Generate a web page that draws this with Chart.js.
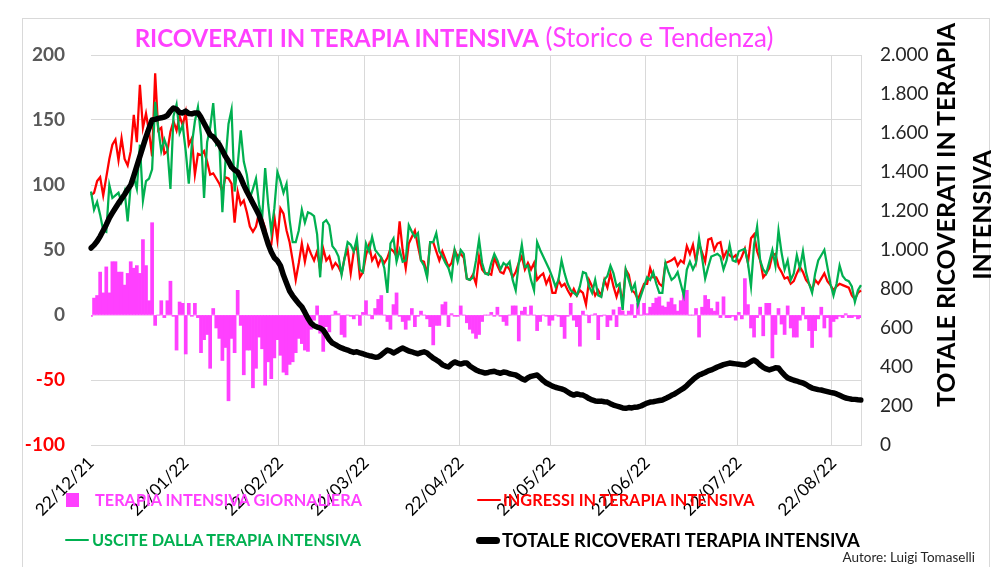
<!DOCTYPE html>
<html>
<head>
<meta charset="utf-8">
<script src="https://cdn.jsdelivr.net/npm/chart.js@4.4.1/dist/chart.umd.min.js"></script>
<style>
  html, body { margin: 0; padding: 0; background: #fff; }
  #wrap { position: relative; width: 1001px; height: 567px; overflow: hidden;
          font-family: 'Liberation Sans Narrow', 'Lato', sans-serif; }
  #frame { position: absolute; left: 22px; top: 18px; width: 966px; height: 600px; border: 1px solid #d9d9d9; }
  #myChart { position: absolute; left: 0; top: 0; }
  #title { position: absolute; left: 0; top: 21px; width: 908px; text-align: center;
           color: #ff40ff; font-size: 26px; white-space: nowrap; }
  #title b { font-weight: bold; font-size: 24px; }
  #rtitle { position: absolute; left: 753px; top: 179px; width: 420px; height: 72px;
            transform: rotate(-90deg); text-align: center; font-weight: bold;
            font-size: 25px; line-height: 36px; color: #000; white-space: nowrap; }
  .leg { position: absolute; font-weight: bold; font-size: 16.3px; white-space: nowrap; line-height: 20px; }
  .leg.big { font-size: 18.4px; }
  .mk { position: absolute; }
  #autore { position: absolute; right: 26px; top: 549px; font-size: 13.5px; color: #262626; }
</style>
</head>
<body>
<div id="wrap">
  <div id="frame"></div>
  <canvas id="myChart" width="1001" height="567"></canvas>
  <div id="title"><b>RICOVERATI IN TERAPIA INTENSIVA</b> (Storico e Tendenza)</div>
  <div id="rtitle">TOTALE RICOVERATI IN TERAPIA<br>INTENSIVA</div>
  <div id="legend"></div>
  <div id="autore">Autore: Luigi Tomaselli</div>
</div>
<script>
// giorni dal 22/12/21 al 31/08/22
const startDate = new Date(2021, 11, 22);
const nDays = 253;
const tickLabels = ['22/12/21', '22/01/22', '22/02/22', '22/03/22', '22/04/22', '22/05/22', '22/06/22', '22/07/22', '22/08/22'];

const giornaliera = [
  -1,13,15,33,17,37,17,41,41,33,33,23,32,41,36,38,32,58,38,11,71,
  -8,0,11,-2,11,26,-1,-27,10,9,-30,9,-1,9,
  -2,-29,-19,-15,-41,5,-10,-18,-35,-25,-66,-18,-29,19,-8,-46,-27,-27,-56,-41,-17,-26,-54,-36,-49,-33,-19,
  -31,-44,-46,-38,-36,-29,-18,-22,-27,-28,
  -11,-4,7,-14,-28,-9,-13,0,3,1,
  -15,-17,0,-1,-3,0,-8,2,11,0,
  -3,5,12,15,0,-5,-11,8,17,-1,
  -5,-11,-4,5,-9,-1,3,0,-3,-9,
  -23,-8,-8,8,10,-9,1,-1,-1,7,
  0,-6,-11,-14,
  -18,-15,-5,0,0,2,-1,6,-1,-5,
  -8,0,7,7,-20,3,6,0,7,0,
  -12,-5,0,-1,-8,-4,0,-1,-9,-18,
  -1,9,-4,-9,-24,3,0,-6,0,1,
  -19,-1,0,-9,-4,4,-9,6,3,0,
  3,8,-2,9,0,9,1,6,9,13,14,
  7,6,10,
  13,8,3,11,16,19,0,0,5,-17,
  6,15,12,5,3,10,-2,14,-2,-2,
  -1,-4,2,-3,28,8,-10,-17,-2,6,
  -16,9,9,-33,-15,5,-7,-15,7,-10,
  -17,-17,-4,6,-3,-12,-25,-12,-3,6,
  -10,-2,-17,-5,-3,-1,-2,1,-2,-2,-1,-3,-2
];

const ingressi = [
  92,94,103,106,92,106,120,131,135,119,136,120,115,126,154,133,177,144,155,141,
  122,186,142,144,124,126,141,149,142,153,146,156,131,136,108,124,123,126,118,108,
  109,105,101,95,106,105,101,71,95,85,88,79,68,64,68,79,74,67,53,54,76,58,
  82,78,65,56,42,27,40,55,41,53,47,42,49,35,51,42,45,36,40,37,
  32,44,50,32,49,53,29,33,46,54,42,46,38,44,40,44,51,49,45,72,
  50,36,55,60,65,53,42,41,31,56,56,49,42,49,43,37,40,50,45,47,44,28,27,31,
  24,45,35,32,32,31,44,38,33,32,38,35,29,33,40,45,35,40,35,40,
  27,30,32,24,29,17,17,27,22,24,19,15,20,15,19,17,8,27,22,15,
  19,15,27,21,32,22,14,22,9,35,31,19,17,12,18,24,24,36,29,29,24,22,40,41,
  42,44,38,42,40,53,47,54,41,55,48,41,58,59,50,55,56,44,49,46,
  44,46,40,45,51,40,59,62,49,42,29,32,36,46,47,37,33,28,29,24,
  26,32,37,33,27,24,19,27,24,28,32,26,23,19,22,24,23,22,21,15,12,17,19
];

const uscite = [
  95,81,87,77,65,64,100,90,92,94,87,95,72,100,106,97,131,88,103,105,
  112,164,144,126,135,128,97,153,162,140,146,126,101,131,149,160,138,90,133,144,
  163,131,133,79,118,147,158,95,115,142,118,108,90,97,105,85,74,113,85,64,82,110,
  103,94,101,73,56,56,65,81,71,79,78,76,62,29,71,73,69,53,50,45,
  31,44,56,54,49,59,35,33,55,49,60,50,47,44,36,17,55,59,41,50,
  41,42,69,64,60,63,42,38,29,56,56,63,49,45,40,36,28,50,41,50,47,28,27,29,
  42,58,40,32,31,40,47,42,35,40,38,41,27,19,40,54,37,38,27,19,
  56,50,45,40,35,29,22,27,42,32,24,19,17,15,22,33,32,22,17,27,
  15,14,27,30,38,32,22,24,4,35,27,19,24,8,15,22,29,27,33,24,17,17,40,33,
  27,29,33,24,15,35,41,35,40,59,44,28,37,45,46,47,45,35,42,54,
  42,41,49,50,51,40,22,54,68,42,35,32,41,50,38,65,48,35,42,27,
  32,46,36,49,33,24,17,32,42,46,50,37,24,15,24,38,30,27,26,22,10,19,23
];

const totale = [
  1010,1025,1045,1070,1100,1130,1164,1190,1215,1240,1262,1285,1310,1333,
  1380,1430,1480,1530,1580,1625,1667,1670,1675,1678,1682,1690,1712,1728,
  1722,1705,1703,1712,1700,1698,1703,1703,1680,1650,1620,1590,
  1580,1560,1540,1510,1480,1455,1425,1410,1400,1370,1333,
  1300,1270,1240,1210,1180,1130,1080,1030,990,960,945,920,870,830,790,
  765,745,725,708,680,650,625,612,605,600,590,565,540,523,
  515,505,498,492,487,480,475,478,472,468,462,458,455,450,451,
  462,475,487,482,472,480,490,497,490,482,478,472,468,474,478,472,
  458,445,436,426,412,405,400,415,426,420,415,420,420,
  405,395,385,378,374,369,372,376,378,372,368,374,372,365,362,359,
  350,340,333,345,352,356,359,345,330,318,310,302,296,292,288,282,
  272,262,256,262,258,256,248,238,231,226,224,225,222,220,
  212,205,200,195,190,188,192,190,194,195,200,208,215,220,222,225,228,231,
  238,246,255,262,272,282,292,305,320,335,348,359,365,372,380,385,
  392,400,406,412,416,420,418,416,414,412,410,418,428,436,
  425,410,398,390,385,390,396,395,375,358,344,338,332,328,322,318,
  310,300,292,288,284,282,278,274,270,267,262,255,248,241,238,235,234,232,231
];

const pad2 = n => String(n).padStart(2, '0');
const labels = [];
for (let i = 0; i < nDays; i++) {
    const d = new Date(startDate.getFullYear(), startDate.getMonth(), startDate.getDate() + i);
    labels.push(pad2(d.getDate()) + '/' + pad2(d.getMonth() + 1) + '/' + pad2(d.getFullYear() % 100));
}

function migliaia(v) {
    if (v < 1000) return String(v);
    return Math.floor(v / 1000) + '.' + String(v % 1000).padStart(3, '0');
}

Chart.defaults.font.family = "'Liberation Sans Narrow', 'Lato', sans-serif";

const data = {
    labels,
    datasets: [
        {
            type: 'line',
            label: 'TOTALE RICOVERATI TERAPIA INTENSIVA',
            data: totale,
            yAxisID: 'y1',
            borderColor: '#000000',
            borderWidth: 5.5,
            borderJoinStyle: 'round',
            borderCapStyle: 'round',
            pointRadius: 0,
            order: 0,
        },
        {
            type: 'line',
            label: 'USCITE DALLA TERAPIA INTENSIVA',
            data: uscite,
            yAxisID: 'y',
            borderColor: '#00b050',
            borderWidth: 2.25,
            pointRadius: 0,
            order: 1,
        },
        {
            type: 'line',
            label: 'INGRESSI IN TERAPIA INTENSIVA',
            data: ingressi,
            yAxisID: 'y',
            borderColor: '#ff0000',
            borderWidth: 2.25,
            pointRadius: 0,
            order: 2,
        },
        {
            type: 'bar',
            label: 'TERAPIA INTENSIVA GIORNALIERA',
            data: giornaliera,
            yAxisID: 'y',
            backgroundColor: '#ff40ff',
            barPercentage: 1,
            categoryPercentage: 1,
            order: 3,
        },
    ],
};

const config = {
    type: 'bar',
    data: data,
    options: {
        responsive: false,
        animation: false,
        layout: { padding: { top: 55, left: 0, right: 0, bottom: 0 } },
        plugins: {
            legend: { display: false },
            title: { display: false },
            tooltip: { enabled: false },
        },
        scales: {
            x: {
                offset: false,
                grid: {
                    color: c => (c.tick && c.tick.label) ? '#d9d9d9' : 'rgba(0,0,0,0)',
                    drawTicks: false,
                },
                border: { color: '#d9d9d9' },
                ticks: {
                    autoSkip: false,
                    minRotation: 45,
                    maxRotation: 45,
                    padding: 8,
                    color: '#000000',
                    font: { size: 17 },
                    callback: function (value) {
                        const l = this.getLabelForValue(value);
                        return tickLabels.includes(l) ? l : '';
                    },
                },
                afterFit: s => { s.height = 122; },
            },
            y: {
                position: 'left',
                min: -100,
                max: 200,
                grid: {
                    color: c => c.tick.value === 0 ? '#f6c4f6' : '#d9d9d9',
                    drawTicks: false,
                },
                border: { display: false },
                ticks: {
                    stepSize: 50,
                    padding: 26,
                    font: { size: 19, weight: 'bold' },
                    color: c => c.tick.value < 0 ? '#ff0000' : '#595959',
                },
                afterFit: s => { s.width = 91; },
            },
            y1: {
                position: 'right',
                min: 0,
                max: 2000,
                grid: { display: false, drawTicks: false },
                border: { color: '#d9d9d9' },
                ticks: {
                    stepSize: 200,
                    padding: 19,
                    font: { size: 19 },
                    color: '#262626',
                    callback: v => migliaia(v),
                },
                afterFit: s => { s.width = 140; },
            },
        },
    },
};

const cts = document.querySelector('#myChart').getContext('2d');
const myChart = new Chart(cts, config);

// legenda in HTML, sovrapposta alle etichette come nell'originale
const legendSlots = {
    'TERAPIA INTENSIVA GIORNALIERA': { x: 66, y: 500, text: 95 },
    'INGRESSI IN TERAPIA INTENSIVA': { x: 477, y: 500, text: 503 },
    'USCITE DALLA TERAPIA INTENSIVA': { x: 65, y: 540, text: 92 },
    'TOTALE RICOVERATI TERAPIA INTENSIVA': { x: 476, y: 540, text: 502, big: true },
};
const legend = document.getElementById('legend');
myChart.data.datasets.forEach(ds => {
    const slot = legendSlots[ds.label];
    const color = ds.type === 'bar' ? ds.backgroundColor : ds.borderColor;
    const mk = document.createElement('div');
    mk.className = 'mk';
    if (ds.type === 'bar') {
        mk.style.cssText = `left:${slot.x}px;top:${slot.y - 7}px;width:13px;height:14px;background:${color};`;
    } else {
        const w = ds.borderWidth > 4 ? 7 : 2.5;
        mk.style.cssText = `left:${slot.x}px;top:${slot.y - w / 2}px;width:24px;height:${w}px;background:${color};border-radius:${w / 2}px;`;
    }
    legend.appendChild(mk);
    const t = document.createElement('div');
    t.className = slot.big ? 'leg big' : 'leg';
    t.style.cssText = `left:${slot.text}px;top:${slot.y - 10}px;color:${color};`;
    t.textContent = ds.label;
    legend.appendChild(t);
});
</script>
</body>
</html>
